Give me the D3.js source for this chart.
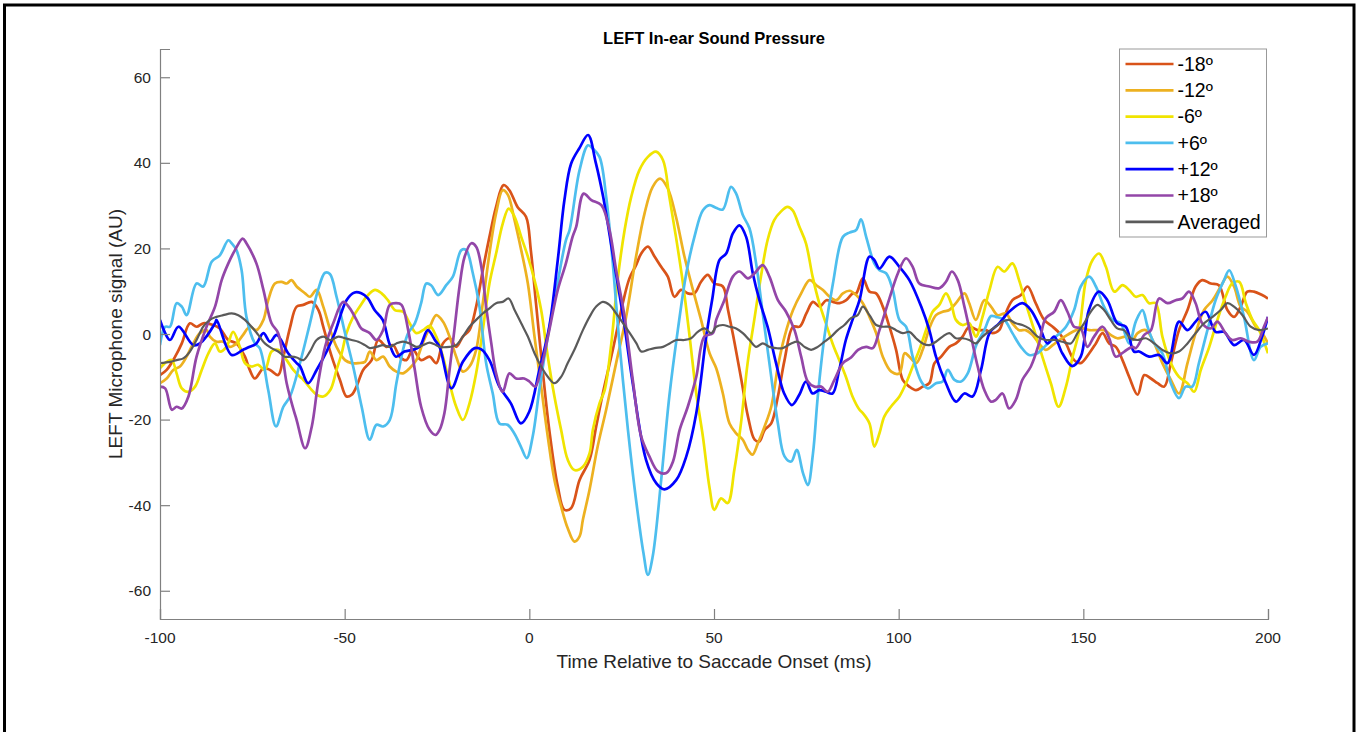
<!DOCTYPE html>
<html>
<head>
<meta charset="utf-8">
<script src="https://cdn.jsdelivr.net/npm/d3@7"></script>
<style>
  html, body { margin: 0; padding: 0; background: #fff; }
  svg { display: block; font-family: "Liberation Sans", Arial, Helvetica, sans-serif; }
</style>
</head>
<body>
<svg id="chart" width="1362" height="732"></svg>
<script>
// series values: [time ms, signal AU]
const minus18 = [[-100,-9.6],[-98.2,-8.4],[-95.9,-5.3],[-94.1,-2.2],[-91.9,2.5],[-90.1,1.7],[-88.3,2.5],[-85.6,2.1],[-83.8,1.3],[-81.5,-1.4],[-79.3,-2.2],[-77,-5.3],[-75.7,-8.4],[-74.3,-10.4],[-72,-8],[-70.2,-8.4],[-68,-9.6],[-66.6,-5.3],[-64.8,1.5],[-63,6.4],[-61.2,6.8],[-58.9,7.5],[-57.1,5.6],[-55.8,1.7],[-53.5,-5.3],[-51.3,-10.7],[-49.5,-14.6],[-48.1,-14.2],[-46.8,-12.3],[-45,-8.4],[-42.7,-6.1],[-40.9,-1.4],[-38.7,-3],[-36.9,-2.6],[-35.1,-5.3],[-33.3,-6.1],[-31.5,-3.7],[-29.3,-6.1],[-27,-5.3],[-25.2,-6.8],[-23.4,-2.2],[-21.6,-1],[-19.8,-3],[-18,-0.6],[-16.2,0.9],[-14.4,6.4],[-12.6,14.9],[-10.8,22.7],[-9,29.7],[-7,34.8],[-5.4,33.6],[-3.2,29.7],[-0.9,27.4],[0.4,19.6],[1.8,7.2],[3.6,-8.4],[5.4,-22.4],[7.7,-35.6],[9.5,-41.1],[11.3,-40.7],[13.6,-34.1],[16.3,-29.4],[18.1,-21.6],[19.9,-13.9],[22.6,-3.7],[25.3,7.2],[27.1,13],[28.9,16.1],[30.3,18.8],[32.1,20.4],[33.9,18.1],[35.7,15.7],[37.5,13.4],[39.3,8.7],[41.1,10.3],[42.9,9.5],[44.7,9.5],[46.5,12.2],[48.3,13.8],[50.1,11.8],[52.4,11.1],[53.8,5.6],[55.6,-2.2],[57.4,-10.7],[59.2,-19.3],[61,-24.7],[62.3,-25.1],[63.7,-22.4],[65.5,-20.9],[67.3,-14.6],[69.1,-6.1],[71.4,1.7],[73.2,1.7],[75,4.8],[76.8,7.5],[78.6,6.4],[80.4,7.9],[82.2,7.5],[84,7.2],[85.8,7.9],[87.6,9.5],[88.5,9.5],[90.3,13],[92.1,9.9],[93.9,9.5],[95.7,6.4],[97.5,1.7],[99.3,-3.7],[101.1,-10.7],[102.9,-12.3],[104.7,-13.1],[106.5,-12.3],[108.3,-11.5],[109.7,-6.8],[111.5,-5.3],[113.7,-3],[115.5,-2.2],[117.3,-0.6],[119.1,1.7],[121.4,0.9],[123.6,0.9],[125.4,0.2],[127.2,0.9],[128.6,4],[130.8,7.9],[133.1,9.1],[134.9,11.1],[137.1,7.2],[139.4,3.3],[141.7,1.7],[143.5,0.2],[145.3,-2.2],[147.5,-6.1],[149.3,-6.8],[151.6,-4.5],[153.4,-2.2],[155.2,0.2],[157,-2.2],[158.8,-3],[160.6,-6.1],[162.4,-10],[164.7,-14.2],[166.5,-9.6],[168.3,-10.4],[170.1,-11.5],[171.9,-12.3],[173.7,-6.8],[175.9,0.9],[178.2,5.6],[180.4,11.1],[182.2,12.6],[184.5,11.8],[186.7,11.4],[189,5.6],[190.8,4],[192.6,6.4],[194.4,9.9],[196.2,9.9],[198.4,9.1],[200,8.3]];

const minus12 = [[-100,-11.5],[-98.2,-10.4],[-96.4,-8.4],[-94.6,-7.6],[-92.8,-5.3],[-91,-2.2],[-89.2,0.2],[-87.4,0.9],[-86.5,-0.6],[-84.7,-1.8],[-82.9,-1.8],[-81.1,-3],[-79.3,-2.2],[-77.5,-0.2],[-75.7,1.7],[-73.9,0.9],[-72,3.3],[-70.7,7.9],[-68.9,11.8],[-67.1,12.2],[-65.7,11.8],[-64.4,12.6],[-63,11.1],[-60.7,9.5],[-59.4,8.7],[-57.6,10.3],[-55.8,6.4],[-53.9,0.9],[-52.2,-3],[-49.9,-6.1],[-48.1,-6.8],[-46.3,-6.8],[-44.5,-6.5],[-43.2,-4.1],[-41.4,-6.1],[-39.6,-5.3],[-37.8,-7.6],[-36,-8.8],[-34.2,-9.2],[-32.4,-8],[-30.6,-6.1],[-28.9,-2.2],[-27,1.5],[-25.2,4.4],[-23.4,2.9],[-21.6,-0.6],[-19.8,-5.3],[-18,-8.8],[-16.2,-7.6],[-14.4,-3.7],[-12.6,7.2],[-10.8,18.8],[-9,28.2],[-7.2,33.6],[-5.8,32.5],[-4,26.6],[-2.2,19.6],[-0.4,11.8],[1.4,-0.6],[3.2,-12.3],[5,-24],[6.8,-34.1],[8.6,-40.3],[10.4,-45.4],[12.2,-48.5],[13.6,-47.3],[14.5,-43.4],[16.3,-36.4],[18.5,-26.3],[20.8,-17.7],[23.5,-6.8],[26.2,4],[28.9,18.1],[31.2,28.2],[33.4,34.4],[35.4,36.3],[37.5,34],[39.7,27.4],[42,18.1],[44.3,10.3],[46.5,3.3],[48.8,-4.5],[50.6,-8],[52.4,-13.9],[54.2,-20.9],[56,-23.2],[57.8,-24.7],[59.2,-27.1],[60.4,-28.2],[61.9,-25.5],[63.7,-21.6],[65.5,-17],[67.3,-7.6],[69.1,-0.6],[71.4,5.6],[73.6,9.5],[75.9,12.6],[77.7,11.4],[79.5,10.3],[81.3,8.7],[83.1,7.9],[84.9,9.5],[86.7,10.1],[88.5,9.1],[90.3,7.2],[92.1,4],[93.9,0.2],[95.7,-5.3],[98,-8.8],[100.2,-9.2],[101.6,-4.5],[102.9,-5.3],[104.7,-6.8],[106.5,-3.7],[108.3,1.3],[110.1,4.4],[111.9,5.2],[113.7,5.6],[115.5,7.2],[117.8,9.5],[119.1,7.2],[120.9,3.3],[123.2,7.9],[125,6.4],[126.8,4.4],[129,4.8],[130.8,2.5],[132.6,0.9],[134.4,0.9],[136.2,-0.2],[138,-2.2],[139.8,-3.7],[141.7,-2.6],[143.5,-1.4],[145.7,-0.2],[148,0.9],[149.8,1.3],[151.6,0.9],[153.4,0.9],[155.6,0.9],[157.4,-0.2],[159.2,-1],[161.5,-0.6],[163.3,-1.4],[164.7,0.2],[166.9,0.9],[169.2,-2.2],[171.4,-6.8],[173.7,-10.7],[175.9,-13.9],[178.2,-6.8],[180.4,0.2],[182.7,5.6],[185,7.9],[187.2,11.1],[189,13.4],[190.8,11.1],[192.6,6.4],[194.4,5.2],[196.7,1.7],[198.4,0.2],[200,-2.2]];

const minus6 = [[-100,-8],[-98.2,-6.5],[-96.8,-6.1],[-95.5,-9.2],[-94.1,-12.7],[-92.3,-13.5],[-90.5,-12.3],[-88.7,-8.4],[-86.9,-4.5],[-85.1,-2.2],[-83.8,-4.1],[-82,-3],[-80.2,0.5],[-78.4,-3],[-77,-6.8],[-75.2,-7.6],[-73.4,-7.2],[-71.6,-8.4],[-69.8,-4.1],[-68,-3.7],[-65.7,-6.1],[-63.9,-8.4],[-62.1,-10],[-61.2,-10.7],[-58.9,-13.1],[-57.6,-14.2],[-55.8,-14.6],[-53.9,-13.1],[-52.2,-8.4],[-50.8,-4.5],[-49.5,0.2],[-47.7,4],[-45.9,6.4],[-44.1,8.7],[-41.8,10.3],[-40,9.5],[-38.3,7.9],[-36.4,5.6],[-34.2,5.2],[-32.4,2.5],[-30.6,0.2],[-28.8,0.9],[-27,1.9],[-25.2,-0.6],[-23.4,-5.3],[-21.6,-11.5],[-19.8,-17],[-18,-20.1],[-16.2,-16.2],[-14.4,-9.2],[-12.6,0.9],[-10.8,11.8],[-9,18.8],[-7.2,25.8],[-5.6,29.3],[-4,27.4],[-2.2,22.7],[-0.4,18.1],[1.4,12.6],[3.2,5.6],[5,-5.3],[6.8,-14.6],[8.6,-22.4],[10.4,-29.4],[12.2,-31.8],[14.5,-31],[16.3,-27.9],[17.2,-22.4],[19,-16.2],[20.4,-13.1],[22.2,-2.2],[23.9,12.6],[25.8,24.3],[27.6,32.1],[29.8,38.3],[32.1,41.4],[34.3,42.6],[36.2,40.6],[37.9,32.1],[39.7,22.7],[41.6,11.8],[43.4,-0.6],[45.2,-13.9],[47,-24],[48.8,-36],[50.1,-41.1],[51.9,-38.4],[53.7,-39.5],[55.5,-31.8],[57.3,-20.9],[59.1,-6.8],[60.9,3.3],[62.7,13.4],[64.5,21.9],[66.3,26.6],[68.1,28.6],[69.9,29.7],[71.3,28.9],[73.1,25.1],[74.9,21.2],[76.7,13.4],[78.5,7.2],[80.3,2.5],[82.1,-2.2],[83.9,-6.1],[85.7,-10],[87.5,-14.6],[89.4,-17.7],[90.3,-18.5],[92.1,-20.9],[93.4,-26.3],[94.8,-23.2],[96.1,-19.3],[97.9,-17],[100.2,-14.6],[102,-11.5],[103.8,-7.6],[105.6,-3.7],[107.4,0.9],[109.2,5.2],[111,6.8],[112.8,9.5],[114.2,7.2],[115.5,3.3],[117.3,2.1],[119.1,2.5],[120.9,-0.6],[122.7,4],[124.6,10.3],[126.8,15.7],[128.6,14.6],[130.8,16.5],[132.6,12.6],[134.4,7.2],[136.7,0.9],[138.9,-5.3],[141.2,-11.5],[143.3,-17],[145.3,-12.3],[147.1,-5.3],[148.9,0.9],[150.7,12.6],[152.5,17.3],[154.3,18.8],[156.1,15.7],[158.4,9.9],[160.6,11.4],[162.4,10.3],[164.2,8.7],[166,9.1],[167.8,7.2],[169.6,7.2],[171.4,-0.6],[173.7,-6.8],[175.9,-10],[178.2,-11.5],[180,-13.5],[181.8,-8.4],[184.1,-3],[186.3,3.3],[188.5,8.7],[190.3,11.8],[192.2,12.2],[194,7.2],[195.8,3.3],[197.6,0.9],[200,-4.5]];

const plus6 = [[-100,-2.6],[-98.6,1.7],[-97.3,1.7],[-95.5,7.2],[-94.1,6.4],[-92.8,4.4],[-90.1,11.8],[-88.3,11.1],[-86,16.9],[-83.8,18.4],[-81.5,21.9],[-80.6,21.2],[-79.3,19.6],[-77.9,14.9],[-76.6,4],[-74.3,-2.2],[-73,-3.3],[-70.7,-13.1],[-68.6,-21.6],[-66.6,-17],[-64.8,-14.6],[-62.1,-6.8],[-59.4,2.5],[-57.2,10.3],[-55.3,14.3],[-54,14],[-52.2,8.7],[-49.9,0.2],[-47.7,-7.6],[-45.4,-17],[-43.2,-24.7],[-41.4,-21.2],[-39.6,-21.6],[-37.8,-20.1],[-36,-11.5],[-34.2,-3.7],[-32.8,0.2],[-31,2.5],[-29.3,7.2],[-27.9,11.8],[-26.6,11.4],[-24.7,9.1],[-22.5,11.4],[-20.7,13.4],[-18.4,19.6],[-17.1,19.6],[-15.3,14.2],[-13.5,6.4],[-11.7,-6.8],[-9.9,-13.9],[-8.1,-20.9],[-5.9,-21.2],[-4.1,-23.2],[-2.3,-26.3],[-0.7,-29],[0.9,-24],[2.7,-13.1],[5,-0.6],[7.3,10.3],[9.9,21.9],[10.9,24.3],[13.6,38.3],[15.9,44.1],[17.2,43.3],[19,41.4],[20.8,32.1],[22.6,16.5],[24.4,-2.2],[26.7,-22.4],[28.9,-38.8],[30.9,-51.2],[32.1,-56.3],[33.4,-52],[35.7,-34.1],[37.9,-14.6],[40.2,0.9],[42.5,14.2],[44.7,22.7],[47,28.9],[48.8,30.1],[50.5,29.5],[52.4,29.1],[54.6,34.4],[56,32.8],[57.8,27.8],[59.6,24.7],[61.4,16.5],[63.2,4.8],[65,-6.8],[67.3,-20.9],[69.1,-28.6],[70.9,-29.8],[72.4,-27.1],[74.1,-32.5],[75.4,-35.3],[76.8,-27.9],[78.1,-14.6],[79.9,-0.6],[82.2,11.8],[84.9,22.7],[86.7,23.7],[88.5,24.3],[89.8,26.8],[91.2,22.7],[93.4,16.5],[94.8,14.9],[96.6,14.2],[98.4,10.3],[100.2,3.3],[102,1.7],[103.8,-5.3],[106.1,-11.1],[107.9,-12.7],[110.1,-11.5],[111.9,-11.1],[113.3,-8.4],[115.1,-10.7],[116.9,-11.1],[118.7,-9.2],[121,-2.6],[123.2,0.9],[125,4.2],[126.3,4],[128.6,3.3],[130.8,0.2],[133.1,-3],[135.3,-4.9],[137.6,-4.5],[139.9,-2.6],[142.6,-0.6],[145.3,1.7],[147.5,5.6],[149.3,11.1],[151.6,13.4],[153.4,11.1],[155.6,6.4],[157.9,3.3],[160.1,2.5],[162.4,-2.2],[164.2,2.9],[166,5.6],[167.4,1.7],[169.2,-2.2],[171.4,-4.5],[173.7,-11.5],[175.9,-15],[177.7,-12.3],[179.5,-12.3],[181.3,-6.8],[183.6,0.9],[185.8,7.9],[188.1,12.6],[189.5,14.9],[191.3,11.1],[193.5,4],[196.2,-6.1],[198,-3],[200,-2.2]];

const plus12 = [[-100,3.3],[-97.3,-1.4],[-95,1.7],[-91,-2.6],[-89.2,-2.2],[-85.1,2.5],[-84.7,3.3],[-80.6,-4.9],[-77.5,-3.7],[-75.7,-3],[-73.9,-2.2],[-72,0.2],[-70.2,-1.8],[-68.4,-0.2],[-65.3,-4.5],[-63,-6.8],[-62.1,-7.5],[-59.9,-11.5],[-57.6,-8.4],[-54.9,-4.1],[-52.7,0.2],[-49.5,7.9],[-47.3,9.7],[-45.5,9.5],[-43.7,8.3],[-41.9,5.6],[-39.7,3.3],[-37.9,-2.2],[-36.1,-5.3],[-33.8,-4.1],[-31.6,-3.7],[-29.7,-3],[-27.5,0.9],[-25.5,-1.5],[-24.3,-3],[-21.1,-12.7],[-18,-6.5],[-14.8,-3.3],[-13,-3.6],[-10.8,-6.1],[-8.1,-12.3],[-5,-16.2],[-2.3,-20.9],[0,-18.1],[2.7,-8.4],[5.4,1.7],[7.7,17.3],[9.5,31.3],[11.3,39.8],[13.6,43.5],[15.9,46.5],[18,40],[20,32],[22.7,18],[25.4,4],[28,-11.5],[31.6,-29.4],[34.4,-34.9],[36.6,-36.3],[39.8,-34.1],[42.5,-28.6],[45.2,-18.5],[47.9,-0.6],[49.5,8],[51.5,17.3],[53.3,18.8],[55.1,23.5],[56.9,25.4],[58.7,22.7],[60.5,14.2],[62.3,7.9],[64.5,1.7],[66.8,-6.8],[69,-13.9],[71.1,-16.6],[73.1,-14.2],[74.9,-11.1],[76.7,-13.9],[78.5,-13.1],[80.3,-13.5],[82.1,-13.9],[83.9,-8.4],[85.7,-1.4],[87.5,3.3],[89.4,7.9],[92.1,18.1],[93.4,17.3],[94.8,15.3],[97.5,18.1],[100.2,15.7],[102.9,12.6],[106.1,6.4],[108.3,0.9],[110.1,-5.3],[112.8,-11.5],[115.5,-15.8],[117.8,-13.9],[120,-14.6],[122.3,-8.4],[124.6,0.2],[127.2,2.5],[129.9,5.2],[133.5,7.2],[135.8,5.6],[138,2.1],[140.3,-2.2],[142.1,-0.6],[144.3,-4.5],[147,-7.5],[149.3,-5.3],[151.5,5.6],[154.2,9.9],[156.5,7.9],[159.2,2.5],[161.5,1.7],[163.7,-4.1],[165.1,-4.1],[167.8,-5.3],[170.5,-4.9],[172.8,-6.8],[175.9,2.9],[178.2,0.9],[180.4,2.9],[183.1,5.2],[185.8,0.5],[188.1,0.5],[190.8,-2.6],[193.5,-1.4],[196.2,-4.9],[198.4,-0.6],[200,4]];

const plus18 = [[-100,-12.3],[-98.6,-12.7],[-96.8,-17.7],[-95.5,-17],[-94.1,-17.4],[-92.3,-14.6],[-90.1,-5.3],[-87.4,1.7],[-85.1,6.4],[-83.3,12.6],[-81.5,16.5],[-79.7,19.6],[-77.6,22.3],[-76.6,21.2],[-73.9,16.5],[-72,10.3],[-69.8,2.5],[-68,0.2],[-65.7,-11.5],[-63.9,-17.5],[-63,-20.1],[-60.7,-26.7],[-58.9,-21.6],[-57.2,-11.5],[-55.3,-3],[-53.1,2.5],[-50.4,7.5],[-48.6,6],[-46.8,3.3],[-45.5,1.3],[-43.2,0.2],[-41.4,-1.4],[-39.6,0.9],[-37.8,6.8],[-36,7.2],[-34.6,6.8],[-32.8,0.9],[-31,-8.4],[-29.3,-17],[-27,-22.4],[-25.4,-23.6],[-24.3,-22.4],[-23,-18.5],[-21.6,-8.4],[-20.3,0.9],[-18.9,11.1],[-17.5,18.1],[-15.7,21.2],[-14.4,20.4],[-13,15.7],[-11.7,6.4],[-10.3,-2.2],[-9,-9.2],[-7.2,-13.5],[-5.4,-9.2],[-3.6,-10.4],[-1.4,-10.4],[0,-11.1],[1.6,-12.3],[3.1,-8.4],[5.4,0.9],[7.7,10.3],[9.9,16.5],[11.7,22.7],[12.7,25.1],[14.7,32.8],[16.8,31.3],[19.5,30.1],[21.7,24.3],[23.5,14.9],[25.8,4],[28,-10.7],[30.3,-24],[32.5,-28.6],[34.8,-32.1],[37.1,-32.5],[38.9,-29.8],[40.7,-22.4],[42.9,-17],[45.2,-10],[47.4,-0.6],[49.7,0.2],[50.6,3.3],[52.8,7.9],[55.1,13.4],[56.9,14.6],[59.2,13],[61,14.2],[63.2,16.1],[65,13.4],[67.3,7.9],[69.5,5.2],[71.8,0.9],[73.6,-5.3],[75.4,-11.1],[77.2,-12.3],[79,-12.3],[80.8,-13.5],[82.6,-10.7],[84.9,-6.8],[87.1,-5.5],[89,-3.7],[91.2,-3],[93,-3.3],[94.8,0.9],[97.1,7.2],[99.8,14.2],[102,17.7],[103.8,15.7],[105.6,11.8],[108.3,11.1],[111,10.7],[112.8,12.2],[114.4,14.6],[116,12.6],[117.8,6.4],[119.6,-0.6],[121.4,-7.6],[123.2,-13.1],[125,-15.8],[126.3,-15.4],[128.1,-13.9],[129.9,-17.4],[131.7,-15.4],[133.5,-10.7],[135.8,-7.6],[138,-2.2],[139.8,3.7],[142.1,5.2],[143.9,7.9],[145.7,5.2],[147.5,1.7],[149.3,1.3],[151.1,-3],[152.9,-0.6],[155.2,1.7],[157,-1],[158.8,-5.3],[161.1,-4.1],[163.3,-3],[164.2,-3.3],[166.5,-0.2],[168.3,0.9],[170.5,8.3],[172.8,7.2],[175,7.9],[176.8,8.3],[178.6,9.9],[180.4,7.2],[182.2,2.5],[184.5,1.3],[186.3,2.9],[188.5,0.2],[190.3,-1.4],[192.6,-1],[194.8,-1.8],[197.1,-1.8],[198.9,1.7],[200,4]];

const averaged = [[-100,-6.8],[-97.3,-6.5],[-95.5,-6.1],[-93.7,-5.7],[-91.9,-4.1],[-90.1,-1.4],[-88.3,1.7],[-86.5,3.3],[-84.7,4],[-82.9,4.4],[-80.6,4.8],[-78.8,4.4],[-77,3.3],[-75.2,1.7],[-73.4,-0.2],[-71.6,-2.2],[-69.8,-3.3],[-68,-4.1],[-66.2,-5.3],[-64.4,-5.3],[-63,-5.5],[-61.2,-6.1],[-59.4,-4.1],[-57.6,-1.4],[-55.8,-0.6],[-53.9,-1.4],[-51.7,-0.6],[-49.9,-1],[-48.1,-1.4],[-46.3,-1.8],[-44.5,-2.6],[-43.2,-3.3],[-41.4,-3],[-39.6,-2.6],[-37.8,-3],[-36,-2.2],[-34.2,-1.8],[-32.4,-2.2],[-30.6,-3],[-28.8,-2.6],[-27,-2],[-25.2,-2.6],[-24.3,-3],[-21.6,-3],[-19.8,-2.6],[-18,-0.6],[-16.2,1.7],[-14.4,3.3],[-12.6,4.8],[-10.8,6],[-9,7.2],[-7.2,7.5],[-5.6,8.3],[-4,5.6],[-2.2,2.5],[-0.4,-0.6],[1.4,-4.5],[3.2,-7.6],[5,-10],[6.8,-11.5],[8.6,-10],[10.4,-6.8],[12.2,-3.7],[14.5,0.9],[16.3,4],[18.1,6.4],[19.9,7.5],[21.7,6.8],[23.5,4.8],[25.4,2.5],[27.2,0.2],[29,-2.2],[30.3,-4.1],[32.1,-3.7],[33.9,-3.3],[36.2,-3],[38,-2.2],[39.8,-1.4],[42,-1.4],[43.8,-1],[45.6,0.5],[47.4,1.3],[49.3,0.2],[50.6,1.7],[52.4,2.1],[54.2,1.7],[56,1.3],[57.8,0.2],[59.6,-1.4],[61.4,-3],[63.2,-2.2],[65,-3],[66.8,-3.3],[68.6,-3.3],[70.9,-2.2],[72.7,-1.8],[74.5,-3],[76.3,-3.7],[78.1,-3],[79.9,-1.8],[81.7,-0.6],[83.5,0.9],[85.3,2.1],[87.1,3.7],[88.9,4.4],[90.3,6.4],[92.1,4.4],[93.9,2.1],[95.7,1.7],[97.5,1.7],[99.3,0.9],[101.1,0.2],[102.9,0.5],[104.7,-1],[106.5,-2.2],[108.3,-2.6],[110.1,-1.8],[111.9,-0.6],[113.7,0.2],[115.5,-1],[117.3,-1],[119.1,-1.4],[120.9,-2.2],[122.7,-0.6],[124.6,0.7],[126.3,1.7],[128.1,2.9],[129.9,3.3],[131.7,2.5],[133.5,2.1],[135.3,1.3],[137.6,-0.6],[139.8,-1.4],[142.1,-1.4],[144.3,-1.8],[146.6,-2.2],[148.4,0.2],[150.2,2.5],[152,5.2],[153.8,6.8],[155.6,5.6],[157.4,3.3],[159.2,1.3],[161,0.9],[162.8,-1],[164.7,-1.4],[166.9,-1],[169.2,-2.2],[171.4,-3.7],[173.7,-4.5],[175.9,-4.1],[178.2,-2.2],[180.4,0.2],[182.7,2.5],[185,4],[187.2,5.6],[189,7.2],[190.8,6.4],[193.1,4.4],[195.3,1.7],[197.6,0.9],[200,1.3]];

const labels = ["-18º", "-12º", "-6º", "+6º", "+12º", "+18º", "Averaged"];
const colors = ["#D95319", "#EDB120", "#F0E400", "#4DBEEE", "#0000FF", "#9346A8", "#5A5A5A"];
const seriesData = [minus18, minus12, minus6, plus6, plus12, plus18, averaged];

const xTicks = [-100, -50, 0, 50, 100, 150, 200];
const yTicks = [-60, -40, -20, 0, 20, 40, 60];

const svg = d3.select("#chart");
const axisColor = "#808080";
const textColor = "#262626";

// figure frame (bottom edge runs off the page)
svg.append("rect")
  .attr("x", 4.5).attr("y", 5)
  .attr("width", 1349.5).attr("height", 780)
  .attr("fill", "none").attr("stroke", "#000").attr("stroke-width", 3);

const x = d3.scaleLinear().domain([-100, 200]).range([160, 1268]);
const y = d3.scaleLinear().domain([-66.6, 66.6]).range([619, 49]);

svg.append("clipPath").attr("id", "plot-clip")
  .append("rect")
  .attr("x", x(-100)).attr("y", y(66.6))
  .attr("width", x(200) - x(-100)).attr("height", y(-66.6) - y(66.6));

const line = d3.line()
  .x(d => x(d[0]))
  .y(d => y(d[1]))
  .curve(d3.curveCatmullRom.alpha(0.5));

const lines = svg.append("g").attr("clip-path", "url(#plot-clip)");
seriesData.forEach((s, i) => {
  lines.append("path")
    .datum(s)
    .attr("d", line)
    .attr("fill", "none")
    .attr("stroke", colors[i])
    .attr("stroke-width", i === 6 ? 2.2 : 2.7)
    .attr("stroke-linejoin", "round");
});

// axes, ticks pointing inward like matlab
const xAxis = svg.append("g")
  .attr("transform", `translate(0,${y(-66.6)})`)
  .call(d3.axisTop(x).tickValues(xTicks).tickSize(10).tickFormat(d3.format("d")));
xAxis.selectAll("text").remove();
const yAxis = svg.append("g")
  .attr("transform", `translate(${x(-100)},0)`)
  .call(d3.axisRight(y).tickValues(yTicks).tickSize(10));
yAxis.selectAll("text").remove();
[xAxis, yAxis].forEach(g => {
  g.select(".domain").attr("stroke", axisColor).attr("stroke-width", 1.2);
  g.selectAll(".tick line").attr("stroke", axisColor).attr("stroke-width", 1.2);
});

svg.append("g").selectAll("text")
  .data(xTicks).join("text")
  .attr("x", d => x(d)).attr("y", 643)
  .attr("text-anchor", "middle")
  .attr("font-size", 15.5).attr("fill", textColor)
  .text(d => d);

svg.append("g").selectAll("text")
  .data(yTicks).join("text")
  .attr("x", 151).attr("y", d => y(d))
  .attr("dy", "0.36em")
  .attr("text-anchor", "end")
  .attr("font-size", 15.5).attr("fill", textColor)
  .text(d => d);

// title and axis labels
svg.append("text")
  .attr("x", (x(-100) + x(200)) / 2).attr("y", 44)
  .attr("text-anchor", "middle")
  .attr("font-size", 16.5).attr("font-weight", "bold").attr("fill", "#000")
  .text("LEFT In-ear Sound Pressure");

svg.append("text")
  .attr("x", (x(-100) + x(200)) / 2).attr("y", 668)
  .attr("text-anchor", "middle")
  .attr("font-size", 19).attr("fill", textColor)
  .text("Time Relative to Saccade Onset (ms)");

svg.append("text")
  .attr("transform", `translate(122,${y(0)}) rotate(-90)`)
  .attr("text-anchor", "middle")
  .attr("font-size", 19).attr("fill", textColor)
  .text("LEFT Microphone signal (AU)");

// legend
const legend = svg.append("g").attr("transform", "translate(1119.5,49)");
legend.append("rect")
  .attr("width", 147).attr("height", 188)
  .attr("fill", "#fff").attr("stroke", "#999").attr("stroke-width", 1);
labels.forEach((lab, i) => {
  const ry = 15 + i * 26.3;
  legend.append("line")
    .attr("x1", 6).attr("x2", 54)
    .attr("y1", ry).attr("y2", ry)
    .attr("stroke", colors[i]).attr("stroke-width", 2.7);
  legend.append("text")
    .attr("x", 58).attr("y", ry)
    .attr("dy", "0.35em")
    .attr("font-size", 19.5).attr("fill", "#000")
    .text(lab);
});
</script>
</body>
</html>
